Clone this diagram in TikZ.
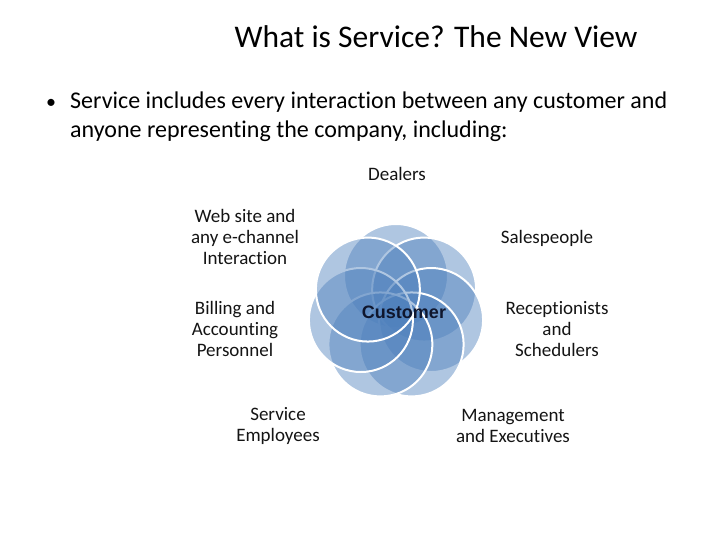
\documentclass[tikz,border=0pt]{standalone}
\usepackage{fontspec}
\setmainfont[Ligatures=NoCommon]{Carlito}
\newfontfamily\arialf{Liberation Sans}
\definecolor{petal}{RGB}{79,129,189}
\definecolor{navy}{RGB}{15,22,45}
\definecolor{txt}{RGB}{20,20,20}
\begin{document}
\begin{tikzpicture}[x=1pt,y=-1pt,
  petalstyle/.style={circle,minimum size=104pt,inner sep=0pt,fill=petal,fill opacity=0.45,draw=white,draw opacity=1,line width=2pt},
  lbl/.style={align=center,text=txt,font=\fontsize{19}{21}\selectfont,inner sep=0pt}]
\useasboundingbox (0,0) rectangle (720,540);
\fill[white] (0,0) rectangle (720,540);
\node[font=\fontsize{31.5}{36}\selectfont,text=black,inner sep=0pt] (title) at (436,37) {What is Service? The New View};
\node[font=\fontsize{20}{29}\selectfont,text=black,inner sep=0pt,anchor=west] (bul) at (46,104) {•};
\node[font=\fontsize{24}{29}\selectfont,text=black,inner sep=0pt,anchor=north west,align=left] (body) at (70,92) {Service includes every interaction between any customer and\\anyone representing the company, including:};
\foreach \i in {0,...,6}{
  \node[petalstyle] (c\i) at ({396+36*cos(90-\i*360/7)},{312-36*sin(90-\i*360/7)}) {};
}
\node[font=\arialf\bfseries\fontsize{18}{21}\selectfont,text=navy,inner sep=0pt] (cust) at (404,312) {Customer};
\node[lbl] (dealers) at (397,174) {Dealers};
\node[lbl] (web) at (245,237) {Web site and\\any e-channel\\Interaction};
\node[lbl] (sales) at (547,238) {Salespeople};
\node[lbl] (bill) at (235,329) {Billing and\\Accounting\\Personnel};
\node[lbl] (recep) at (557,329) {Receptionists\\and\\Schedulers};
\node[lbl] (serv) at (278,426) {Service\\Employees};
\node[lbl] (mgmt) at (513,426) {Management\\and Executives};
\end{tikzpicture}
\end{document}
